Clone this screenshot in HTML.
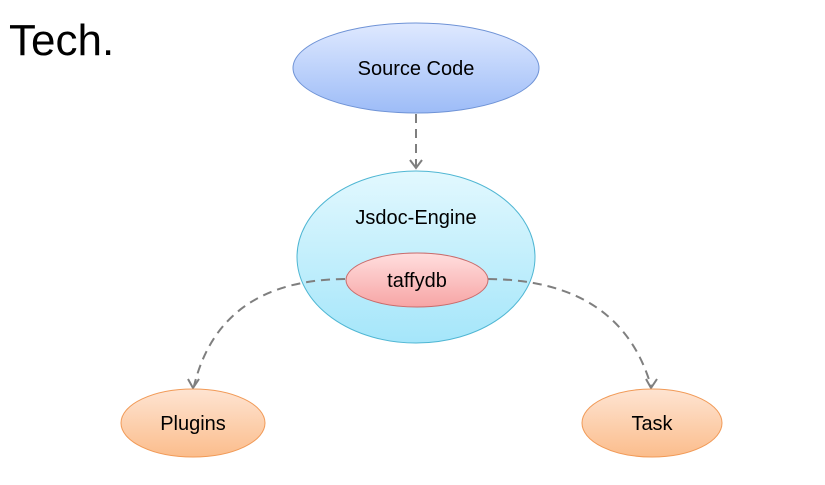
<!DOCTYPE html>
<html><head><meta charset="utf-8"><style>
html,body{margin:0;padding:0;background:#fff;}
</style></head><body>
<svg width="825" height="480" viewBox="0 0 825 480" xmlns="http://www.w3.org/2000/svg" font-family="'Liberation Sans', sans-serif">
<defs>
<linearGradient id="gb" x1="0" y1="0" x2="0" y2="1"><stop offset="0" stop-color="#dfe9ff"/><stop offset="1" stop-color="#9dbcf7"/></linearGradient>
<linearGradient id="gc" x1="0" y1="0" x2="0" y2="1"><stop offset="0" stop-color="#e2f8fe"/><stop offset="1" stop-color="#a5e6fa"/></linearGradient>
<linearGradient id="gr" x1="0" y1="0" x2="0" y2="1"><stop offset="0" stop-color="#ffdede"/><stop offset="1" stop-color="#f7a5a5"/></linearGradient>
<linearGradient id="go" x1="0" y1="0" x2="0" y2="1"><stop offset="0" stop-color="#fee4d2"/><stop offset="1" stop-color="#fbbd8c"/></linearGradient>
</defs>
<text x="9" y="55" font-size="44" fill="#000">Tech.</text>
<ellipse cx="416" cy="68" rx="123" ry="45" fill="url(#gb)" stroke="#6f93d6" stroke-width="1"/>
<text x="416" y="75" font-size="20" text-anchor="middle">Source Code</text>
<ellipse cx="416" cy="257" rx="119" ry="86" fill="url(#gc)" stroke="#4fb6d3" stroke-width="1"/>
<text x="416" y="224" font-size="20" text-anchor="middle">Jsdoc-Engine</text>
<g stroke="#7f7f7f" stroke-width="2" fill="none" stroke-dasharray="9,6">
<line x1="416" y1="114" x2="416" y2="166"/>
<path d="M345 279 Q220 280 194 386"/>
<path d="M488 279 Q620 280 651 386"/>
</g>
<g stroke="#7f7f7f" stroke-width="2" fill="none">
<polyline points="410,160 416,168 422,160"/>
<polyline points="188,379 193,388 199,379"/>
<polyline points="646,379 651,388 657,379"/>
</g>
<ellipse cx="417" cy="280" rx="71" ry="27" fill="url(#gr)" stroke="#c96b6b" stroke-width="1"/>
<text x="417" y="287" font-size="20" text-anchor="middle">taffydb</text>
<ellipse cx="193" cy="423" rx="72" ry="34" fill="url(#go)" stroke="#f19a57" stroke-width="1"/>
<text x="193" y="430" font-size="20" text-anchor="middle">Plugins</text>
<ellipse cx="652" cy="423" rx="70" ry="34" fill="url(#go)" stroke="#f19a57" stroke-width="1"/>
<text x="652" y="430" font-size="20" text-anchor="middle">Task</text>
</svg>
</body></html>
